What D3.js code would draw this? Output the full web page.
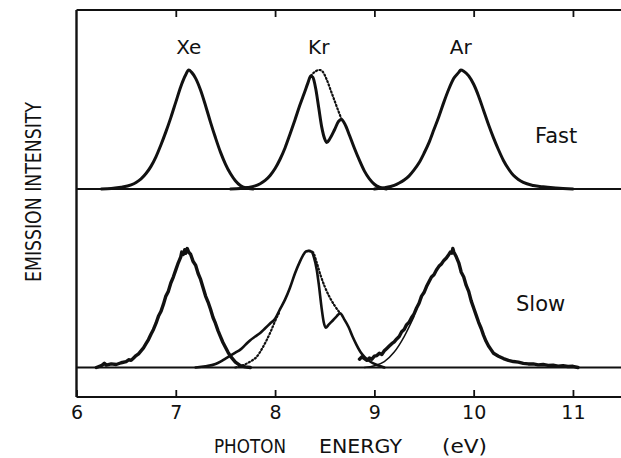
<!DOCTYPE html>
<html lang="en">
<head>
<meta charset="UTF-8">
<title>Emission spectra Xe Kr Ar</title>
<script src="https://d3js.org/d3.v7.min.js"></script>
<style>
    body { margin: 0; background: #fff; }
    svg text { font-family: "DejaVu Sans", sans-serif; fill: #111; }
</style>
</head>
<body>
<div id="chart"></div>
<script>
// energies in eV, intensities normalised to peak = 1
const xTicks = [6, 7, 8, 9, 10, 11];
const gasLabels = [["Xe", 7.13], ["Kr", 8.44], ["Ar", 9.87]];

const xeFast = [[6.25,0],[6.35,0.005],[6.45,0.015],[6.55,0.035],[6.6,0.055],[6.65,0.085],[6.7,0.13],[6.75,0.19],[6.8,0.27],[6.85,0.37],[6.9,0.48],[6.95,0.6],[7.0,0.73],[7.05,0.86],[7.1,0.96],[7.13,1.0],[7.16,0.98],[7.2,0.93],[7.25,0.83],[7.3,0.7],[7.35,0.56],[7.4,0.43],[7.45,0.31],[7.5,0.21],[7.55,0.13],[7.6,0.07],[7.65,0.03],[7.7,0.01],[7.78,0]];
const krFast = [[7.55,0],[7.65,0.005],[7.72,0.012],[7.8,0.026],[7.85,0.044],[7.9,0.072],[7.95,0.114],[8.0,0.172],[8.05,0.25],[8.1,0.345],[8.15,0.46],[8.2,0.58],[8.25,0.705],[8.3,0.82],[8.33,0.89],[8.36,0.95],[8.38,0.94],[8.41,0.84],[8.44,0.68],[8.47,0.52],[8.5,0.42],[8.52,0.39],[8.55,0.42],[8.6,0.5],[8.64,0.57],[8.67,0.585],[8.7,0.55],[8.75,0.45],[8.8,0.34],[8.85,0.24],[8.9,0.15],[8.95,0.085],[9.0,0.04],[9.05,0.015],[9.12,0]];
const krFastDotted = [[8.36,0.95],[8.4,0.985],[8.45,1.0],[8.48,0.985],[8.52,0.92],[8.56,0.83],[8.6,0.74],[8.64,0.65],[8.67,0.585]];
const arFast = [[9.0,0],[9.1,0.01],[9.2,0.03],[9.25,0.05],[9.3,0.075],[9.35,0.11],[9.4,0.16],[9.45,0.22],[9.5,0.3],[9.55,0.39],[9.6,0.5],[9.65,0.61],[9.7,0.73],[9.75,0.84],[9.8,0.93],[9.85,0.98],[9.87,1.0],[9.9,0.99],[9.95,0.95],[10.0,0.88],[10.05,0.78],[10.1,0.66],[10.15,0.54],[10.2,0.43],[10.25,0.33],[10.3,0.24],[10.35,0.17],[10.4,0.115],[10.45,0.08],[10.5,0.055],[10.6,0.03],[10.7,0.018],[10.8,0.01],[10.9,0.005],[11.0,0]];

const xeSlow = [[6.2,0],[6.25,0.015],[6.28,0.035],[6.3,0.02],[6.35,0.03],[6.4,0.025],[6.45,0.04],[6.5,0.05],[6.525,0.065],[6.55,0.06],[6.575,0.08],[6.6,0.1],[6.625,0.115],[6.65,0.14],[6.675,0.165],[6.7,0.2],[6.725,0.235],[6.75,0.28],[6.775,0.32],[6.8,0.37],[6.825,0.43],[6.85,0.47],[6.875,0.53],[6.9,0.6],[6.925,0.64],[6.95,0.71],[6.975,0.76],[7.0,0.82],[7.025,0.88],[7.05,0.93],[7.06,0.97],[7.075,0.95],[7.09,0.99],[7.1,0.96],[7.115,1.0],[7.13,0.97],[7.15,0.95],[7.175,0.89],[7.2,0.86],[7.225,0.79],[7.25,0.74],[7.275,0.67],[7.3,0.6],[7.325,0.55],[7.35,0.49],[7.375,0.42],[7.4,0.37],[7.425,0.31],[7.45,0.26],[7.475,0.21],[7.5,0.17],[7.525,0.13],[7.55,0.095],[7.575,0.07],[7.6,0.045],[7.625,0.03],[7.65,0.015],[7.7,0.005],[7.75,0]];
const krSlow = [[7.2,0],[7.3,0.01],[7.4,0.03],[7.45,0.05],[7.5,0.075],[7.55,0.1],[7.6,0.125],[7.65,0.15],[7.7,0.19],[7.75,0.23],[7.8,0.26],[7.85,0.29],[7.9,0.33],[7.95,0.37],[8.0,0.41],[8.05,0.49],[8.1,0.57],[8.15,0.67],[8.2,0.79],[8.25,0.89],[8.28,0.94],[8.31,0.975],[8.34,0.98],[8.37,0.97],[8.39,0.93],[8.42,0.82],[8.44,0.7],[8.47,0.49],[8.49,0.38],[8.51,0.335],[8.54,0.36],[8.57,0.385],[8.62,0.43],[8.655,0.455],[8.7,0.4],[8.74,0.34],[8.78,0.26],[8.82,0.19],[8.86,0.13],[8.9,0.09],[8.95,0.055],[8.99,0.035],[9.05,0.015],[9.1,0]];
const krSlowDottedLeft = [[7.6,0],[7.68,0.02],[7.75,0.05],[7.815,0.09],[7.87,0.16],[7.915,0.23],[7.96,0.31],[8.0,0.39],[8.04,0.46]];
const krSlowDottedRight = [[8.34,0.98],[8.38,0.97],[8.42,0.88],[8.46,0.77],[8.5,0.68],[8.55,0.59],[8.6,0.52],[8.655,0.455]];
const arSlow = [[8.85,0.07],[8.875,0.09],[8.9,0.075],[8.925,0.06],[8.95,0.08],[8.975,0.07],[9.0,0.095],[9.025,0.1],[9.05,0.12],[9.075,0.11],[9.1,0.14],[9.125,0.16],[9.15,0.18],[9.175,0.2],[9.2,0.215],[9.225,0.24],[9.25,0.26],[9.275,0.3],[9.3,0.32],[9.325,0.36],[9.35,0.38],[9.375,0.42],[9.4,0.45],[9.425,0.5],[9.45,0.54],[9.475,0.6],[9.5,0.63],[9.525,0.68],[9.55,0.72],[9.575,0.76],[9.6,0.78],[9.625,0.82],[9.65,0.85],[9.675,0.87],[9.7,0.9],[9.725,0.92],[9.75,0.95],[9.765,0.97],[9.78,0.96],[9.79,1.0],[9.8,0.97],[9.825,0.93],[9.85,0.88],[9.875,0.8],[9.9,0.76],[9.925,0.69],[9.95,0.64],[9.975,0.56],[10.0,0.5],[10.025,0.44],[10.05,0.38],[10.075,0.33],[10.1,0.27],[10.125,0.22],[10.15,0.18],[10.175,0.15],[10.2,0.12],[10.25,0.095],[10.3,0.075],[10.35,0.06],[10.4,0.05],[10.45,0.045],[10.5,0.035],[10.55,0.03],[10.6,0.03],[10.65,0.022],[10.7,0.025],[10.75,0.018],[10.8,0.02],[10.85,0.012],[10.9,0.015],[10.95,0.008],[11.0,0.01],[11.05,0]];
const arSlowFit = [[8.9,0],[9.0,0.015],[9.1,0.05],[9.2,0.13],[9.3,0.26],[9.4,0.43]];

const width = 621, height = 458;
const svg = d3.select('#chart').append('svg')
    .attr('width', width).attr('height', height);

const x = d3.scaleLinear().domain([6, 11.5]).range([76.5, 622.6]);
const yFast = d3.scaleLinear().domain([0, 1]).range([189, 70]);
const ySlow = d3.scaleLinear().domain([0, 1]).range([367.5, 248.5]);
const frameTop = 10, frameBottom = 397;

// frame + baselines
const ink = '#111';
svg.append('line').attr('x1', x(6)).attr('x2', x(6)).attr('y1', frameTop).attr('y2', frameBottom)
    .attr('stroke', ink).attr('stroke-width', 2.4);
[[frameTop, 2.2], [frameBottom, 2.2], [yFast(0), 2], [ySlow(0), 2]].forEach(([yy, w]) => {
    svg.append('line').attr('x1', x(6)).attr('x2', width).attr('y1', yy).attr('y2', yy)
        .attr('stroke', ink).attr('stroke-width', w);
});

// inward ticks
const bottomAxis = d3.axisBottom(x).tickValues(xTicks).tickSizeInner(-7).tickSizeOuter(0).tickPadding(9).tickFormat(d3.format('d'));
const gB = svg.append('g').attr('transform', `translate(0,${frameBottom})`).call(bottomAxis);
gB.select('.domain').remove();
gB.selectAll('line').attr('stroke', ink).attr('stroke-width', 1.8);
gB.selectAll('text').attr('font-size', 19).attr('fill', ink).style('font-family', '"DejaVu Sans", sans-serif');

const topAxis = d3.axisTop(x).tickValues(xTicks.slice(1)).tickSizeInner(-7).tickSizeOuter(0).tickFormat('');
const gT = svg.append('g').attr('transform', `translate(0,${frameTop})`).call(topAxis);
gT.select('.domain').remove();
gT.selectAll('line').attr('stroke', ink).attr('stroke-width', 1.8);

// curves
function drawCurve(data, y, opts) {
    const line = d3.line().x(d => x(d[0])).y(d => y(d[1]))
        .curve(opts.noisy ? d3.curveLinear : d3.curveMonotoneX);
    svg.append('path').datum(data).attr('d', line)
        .attr('fill', 'none').attr('stroke', ink)
        .attr('stroke-width', opts.w || 3)
        .attr('stroke-linejoin', 'round').attr('stroke-linecap', 'round')
        .attr('stroke-dasharray', opts.dash || null);
}

drawCurve(xeFast, yFast, {});
drawCurve(krFast, yFast, {});
drawCurve(krFastDotted, yFast, { w: 2.2, dash: '1.2,2.4' });
drawCurve(arFast, yFast, {});

drawCurve(arSlowFit, ySlow, { w: 1.5 });
drawCurve(xeSlow, ySlow, { noisy: true, w: 3.4 });
drawCurve(krSlow, ySlow, { w: 2.6 });
drawCurve(krSlowDottedLeft, ySlow, { w: 2.2, dash: '1.2,2.4' });
drawCurve(krSlowDottedRight, ySlow, { w: 2.2, dash: '1.2,2.4' });
drawCurve(arSlow, ySlow, { noisy: true, w: 3.4 });

// labels
gasLabels.forEach(([name, e]) => {
    svg.append('text').attr('x', x(e)).attr('y', 54).attr('text-anchor', 'middle')
        .attr('font-size', 20).text(name);
});
svg.append('text').attr('x', 535).attr('y', 143).attr('font-size', 21).text('Fast');
svg.append('text').attr('x', 516).attr('y', 311).attr('font-size', 21).text('Slow');

[['PHOTON', 214, 72], ['ENERGY', 319, 83], ['(eV)', 442, 45]].forEach(([t, px, len]) => {
    svg.append('text').attr('x', px).attr('y', 453).attr('font-size', 19)
        .attr('textLength', len).attr('lengthAdjust', 'spacingAndGlyphs').text(t);
});

svg.append('text')
    .attr('transform', 'translate(41,192) rotate(-90)')
    .attr('text-anchor', 'middle')
    .attr('font-size', 22)
    .attr('textLength', 180).attr('lengthAdjust', 'spacingAndGlyphs')
    .text('EMISSION  INTENSITY');
</script>
</body>
</html>
